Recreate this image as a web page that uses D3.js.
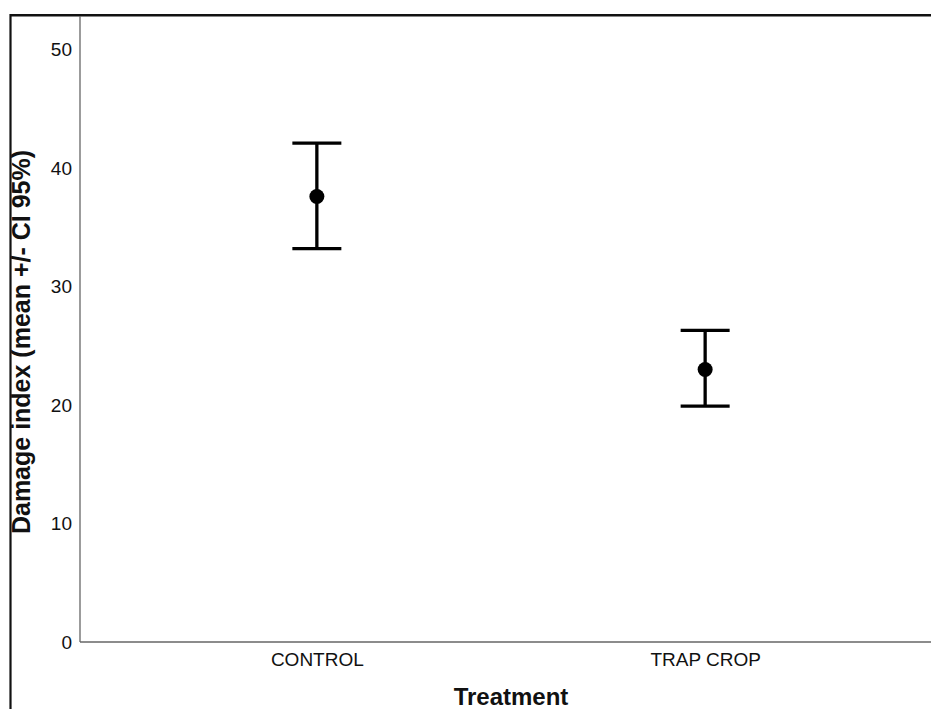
<!DOCTYPE html>
<html>
<head>
<meta charset="utf-8">
<script src="https://cdn.jsdelivr.net/npm/d3@7"></script>
<style>
  body { margin: 0; background: #fff; }
  svg { display: block; font-family: "Liberation Sans", Arial, sans-serif; }
</style>
</head>
<body>
<svg id="chart" width="931" height="709"></svg>
<script>
// data
var treatments = ["CONTROL", "TRAP CROP"];
var means = [37.6, 23.0];
var ciLow = [33.2, 19.9];
var ciHigh = [42.1, 26.3];
var yTicks = [0, 10, 20, 30, 40, 50];

var svg = d3.select("#chart");

// plot box (don't use "top", it's window.top)
var pLeft = 80, pRight = 942, pTop = 16, pBottom = 642;

var x = d3.scalePoint().domain(treatments).range([pLeft, pRight]).padding(0.61);
var y = d3.scaleLinear().domain([0, 50]).range([pBottom, 49.5]);

// outer frame
svg.append("line").attr("x1", 10.5).attr("x2", 10.5).attr("y1", 14).attr("y2", 709)
  .attr("stroke", "#111").attr("stroke-width", 2.2);
svg.append("line").attr("x1", 10).attr("x2", 931).attr("y1", 15.2).attr("y2", 15.2)
  .attr("stroke", "#111").attr("stroke-width", 2.4);

// axes
var yAxis = svg.append("g").attr("transform", "translate(" + pLeft + ",0)")
  .call(d3.axisLeft(y).tickValues(yTicks).tickSize(0).tickPadding(8));
yAxis.select(".domain").remove();
yAxis.selectAll("text").attr("font-size", 19).attr("fill", "#111").attr("font-family", "Liberation Sans, Arial, sans-serif");

svg.append("line").attr("x1", pLeft).attr("x2", pLeft).attr("y1", pTop).attr("y2", pBottom)
  .attr("stroke", "#666").attr("stroke-width", 1.3);

var xAxis = svg.append("g").attr("transform", "translate(0," + pBottom + ")")
  .call(d3.axisBottom(x).tickSize(0).tickPadding(11));
xAxis.select(".domain").remove();
xAxis.selectAll("text").attr("font-size", 19).attr("fill", "#111").attr("font-family", "Liberation Sans, Arial, sans-serif");

svg.append("line").attr("x1", pLeft).attr("x2", 931).attr("y1", pBottom).attr("y2", pBottom)
  .attr("stroke", "#666").attr("stroke-width", 1.5);

// error bars
var g = svg.append("g").selectAll("g").data(treatments).join("g");
g.append("line")
  .attr("x1", function(d) { return x(d); }).attr("x2", function(d) { return x(d); })
  .attr("y1", function(d, i) { return y(ciHigh[i]); })
  .attr("y2", function(d, i) { return y(ciLow[i]); })
  .attr("stroke", "#000").attr("stroke-width", 3.3);
g.append("line")
  .attr("x1", function(d) { return x(d) - 24.5; }).attr("x2", function(d) { return x(d) + 24.5; })
  .attr("y1", function(d, i) { return y(ciHigh[i]); })
  .attr("y2", function(d, i) { return y(ciHigh[i]); })
  .attr("stroke", "#000").attr("stroke-width", 3.3);
g.append("line")
  .attr("x1", function(d) { return x(d) - 24.5; }).attr("x2", function(d) { return x(d) + 24.5; })
  .attr("y1", function(d, i) { return y(ciLow[i]); })
  .attr("y2", function(d, i) { return y(ciLow[i]); })
  .attr("stroke", "#000").attr("stroke-width", 3.3);
g.append("circle")
  .attr("cx", function(d) { return x(d); })
  .attr("cy", function(d, i) { return y(means[i]); })
  .attr("r", 7.5).attr("fill", "#000");

// titles
svg.append("text")
  .attr("transform", "translate(30,342) rotate(-90)")
  .attr("text-anchor", "middle").attr("font-weight", "bold").attr("font-size", 25)
  .attr("fill", "#111")
  .text("Damage index (mean +/- CI 95%)");

svg.append("text")
  .attr("x", (pLeft + pRight) / 2).attr("y", 705)
  .attr("text-anchor", "middle").attr("font-weight", "bold").attr("font-size", 24)
  .attr("fill", "#111")
  .text("Treatment");
</script>
</body>
</html>
